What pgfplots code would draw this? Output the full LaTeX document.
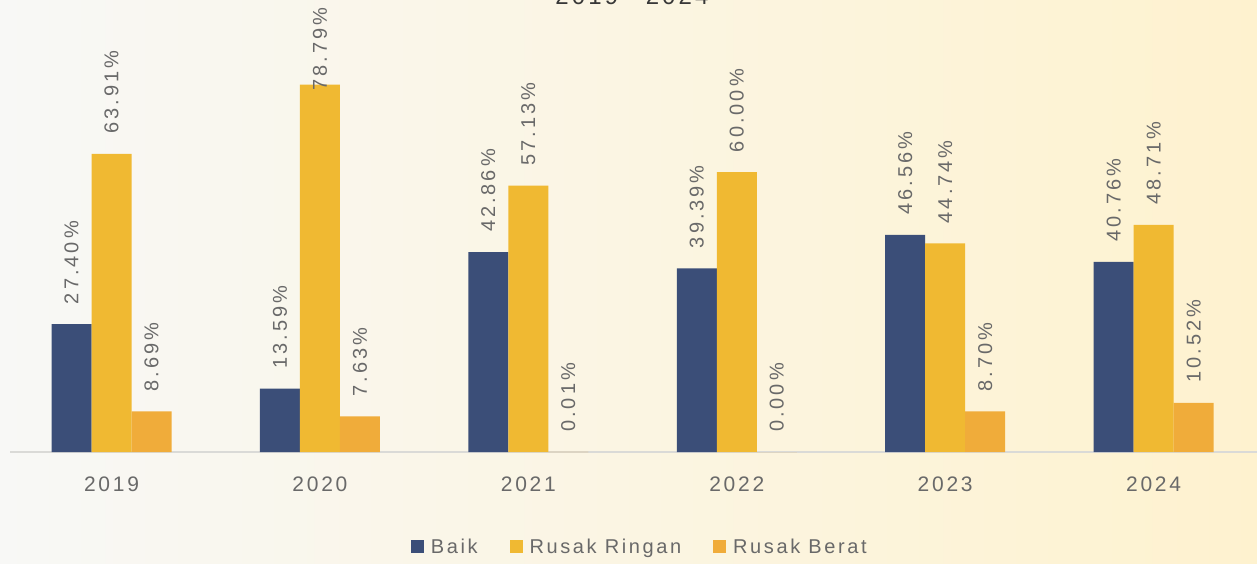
\documentclass[border=0pt]{standalone}
\usepackage{fontspec}
\setmainfont{Liberation Sans}
\newfontfamily\lbl[LetterSpace=13]{Liberation Sans}
\newfontfamily\nlbl[LetterSpace=15]{Liberation Sans}
\usepackage{pgfplots}
\pgfplotsset{compat=1.18}
\definecolor{baik}{RGB}{59,78,120}
\definecolor{ringan}{RGB}{240,185,50}
\definecolor{berat}{RGB}{240,172,58}
\definecolor{txt}{RGB}{105,105,105}
\definecolor{bgL}{RGB}{248,248,246}
\definecolor{bgR}{RGB}{254,242,207}
\begin{document}
\begin{tikzpicture}[x=1pt,y=1pt]
\useasboundingbox (0,0) rectangle (1257,563);
\clip (0,0) rectangle (1257,563);
\shade[left color=bgL, right color=bgR] (0,0) rectangle (1257,563);
\node[anchor=base, text=black!78, font={\lbl\fontsize{24}{28}\selectfont}] at (632,558) {2019 - 2024};
\begin{axis}[
  at={(10pt,111pt)}, anchor=south west,
  scale only axis, width=1247pt, height=452pt,
  xmin=-0.487, xmax=5.496, ymin=0, ymax=96.93,
  clip=false,
  /pgf/number format/assume math mode=true,
  axis x line*=bottom, axis y line=none,
  x axis line style={draw={rgb,255:red,218;green,218;blue,215}, line width=1.5pt, -},
  xtick=data, xticklabels={2019,2020,2021,2022,2023,2024},
  major tick length=0pt,
  xticklabel style={text=txt, font={\lbl\fontsize{21}{25}\selectfont}, yshift=-21pt},
  ybar=0pt, bar width=40pt,
  visualization depends on={rawy \as \ry},
  nodes near coords={\pgfmathprintnumber[fixed,fixed zerofill,precision=2]{\pgfplotspointmeta}\%},
  every node near coord/.append style={rotate=90, anchor=west, inner xsep={\ry>75 ? -6 : 20}, text=txt, font={\nlbl\fontsize{20}{24}\selectfont}},
  legend columns=-1,
  legend style={at={(0.505,-0.21)}, anchor=center, draw=none, fill=none,
    font={\lbl\fontsize{20}{24}\selectfont}, text=txt,
    /tikz/every odd column/.append style={column sep=5pt},
    /tikz/every even column/.append style={column sep=30pt}},
  legend image code/.code={\fill[#1] (-2pt,-6pt) rectangle (11pt,7pt);},
]
\addplot[fill=baik, draw=none] coordinates {(0,27.40) (1,13.59) (2,42.86) (3,39.39) (4,46.56) (5,40.76)};
\addplot[fill=ringan, draw=none] coordinates {(0,63.91) (1,78.79) (2,57.13) (3,60.00) (4,44.74) (5,48.71)};
\addplot[fill=berat, draw=none] coordinates {(0,8.69) (1,7.63) (2,0.01) (3,0.00) (4,8.70) (5,10.52)};
\legend{Baik, Rusak Ringan, Rusak Berat}
\end{axis}
\end{tikzpicture}
\end{document}
